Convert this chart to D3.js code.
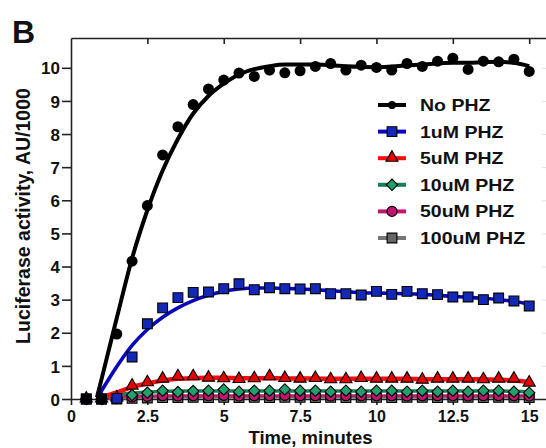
<!DOCTYPE html>
<html>
<head>
<meta charset="utf-8">
<script src="https://cdn.jsdelivr.net/npm/d3@7"></script>
<style>
  html, body { margin: 0; padding: 0; background: #fff; }
  svg { display: block; }
  text { font-family: "Liberation Sans", Arial, sans-serif; font-weight: bold; fill: #111; }
</style>
</head>
<body>
<svg id="chart" width="546" height="448"></svg>
<script>
// ---------- data ----------
const times = [0.5, 1, 1.5, 2, 2.5, 3, 3.5, 4, 4.5, 5, 5.5, 6, 6.5, 7, 7.5, 8, 8.5, 9, 9.5, 10,
               10.5, 11, 11.5, 12, 12.5, 13, 13.5, 14, 14.5, 15];
const noPHZ   = [0, 0, 1.96, 4.16, 5.84, 7.37, 8.22, 8.89, 9.36, 9.63, 9.84, 9.74, 9.93, 9.85, 9.91, 10.04,
                 10.13, 9.93, 10.08, 10.01, 9.93, 10.13, 10.04, 10.2, 10.29, 9.95, 10.2, 10.18, 10.26, 9.89];
const uM1     = [0, 0, 0.02, 1.27, 2.27, 2.75, 3.06, 3.22, 3.23, 3.33, 3.48, 3.3, 3.36, 3.33, 3.32, 3.33,
                 3.18, 3.18, 3.14, 3.25, 3.16, 3.25, 3.18, 3.15, 3.08, 3.08, 3.0, 3.05, 2.96, 2.81];
const uM5     = [0, 0, 0.03, 0.39, 0.49, 0.6, 0.67, 0.67, 0.63, 0.61, 0.59, 0.61, 0.67, 0.62, 0.6, 0.62,
                 0.58, 0.58, 0.62, 0.6, 0.6, 0.6, 0.57, 0.6, 0.6, 0.6, 0.58, 0.6, 0.6, 0.48];
const uM10    = [0, 0, 0.03, 0.12, 0.19, 0.25, 0.21, 0.24, 0.25, 0.29, 0.22, 0.25, 0.25, 0.29, 0.25, 0.25,
                 0.22, 0.25, 0.22, 0.25, 0.25, 0.22, 0.25, 0.22, 0.25, 0.22, 0.25, 0.25, 0.22, 0.19];
const uM50    = [0, 0, 0.02, 0.06, 0.08, 0.1, 0.09, 0.1, 0.1, 0.11, 0.09, 0.1, 0.1, 0.11, 0.1, 0.1,
                 0.09, 0.1, 0.1, 0.1, 0.1, 0.09, 0.1, 0.1, 0.1, 0.09, 0.1, 0.1, 0.1, 0.09];
const uM100   = [0, 0, 0, 0.02, 0.03, 0.04, 0.04, 0.05, 0.04, 0.05, 0.04, 0.05, 0.04, 0.05, 0.05, 0.04,
                 0.05, 0.04, 0.05, 0.05, 0.04, 0.05, 0.05, 0.04, 0.05, 0.05, 0.04, 0.05, 0.05, 0.04];

// fitted curves
const fitTimes = [0.85, 1, 1.5, 2, 2.5, 3, 3.5, 4, 4.5, 5, 5.5, 6, 6.5, 7, 7.5, 8, 8.5, 9, 9.5, 10,
                  10.5, 11, 11.5, 12, 12.5, 13, 13.5, 14, 14.5, 15];
const noPHZFit = [0.05, 0.6, 2.45, 4.25, 5.7, 6.9, 7.85, 8.62, 9.15, 9.52, 9.8, 9.96, 10.05, 10.1, 10.1, 10.1,
                  10.08, 10.05, 10.03, 10.02, 10.04, 10.07, 10.1, 10.13, 10.15, 10.15, 10.17, 10.18, 10.15, 10.05];
const uM1Fit   = [0.03, 0.25, 0.98, 1.62, 2.1, 2.47, 2.75, 2.97, 3.13, 3.25, 3.32, 3.35, 3.35, 3.34, 3.32, 3.3,
                  3.27, 3.24, 3.21, 3.2, 3.19, 3.18, 3.16, 3.13, 3.1, 3.07, 3.04, 3.0, 2.95, 2.86];
const uM5Fit   = [0.01, 0.05, 0.2, 0.36, 0.47, 0.56, 0.61, 0.63, 0.64, 0.64, 0.63, 0.63, 0.63, 0.62, 0.62, 0.62,
                  0.61, 0.61, 0.61, 0.61, 0.61, 0.61, 0.6, 0.6, 0.6, 0.6, 0.59, 0.58, 0.56, 0.51];
const uM10Fit  = [0.01, 0.04, 0.12, 0.18, 0.21, 0.23, 0.24, 0.24, 0.24, 0.24, 0.24, 0.24, 0.24, 0.24, 0.24, 0.24,
                  0.24, 0.24, 0.24, 0.24, 0.24, 0.24, 0.24, 0.24, 0.24, 0.24, 0.24, 0.24, 0.23, 0.22];
const uM50Fit  = [0.01, 0.03, 0.06, 0.08, 0.09, 0.1, 0.1, 0.1, 0.1, 0.1, 0.1, 0.1, 0.1, 0.1, 0.1, 0.1,
                  0.1, 0.1, 0.1, 0.1, 0.1, 0.1, 0.1, 0.1, 0.1, 0.1, 0.1, 0.1, 0.1, 0.1];
const uM100Fit = [0.01, 0.02, 0.03, 0.04, 0.05, 0.05, 0.05, 0.05, 0.05, 0.05, 0.05, 0.05, 0.05, 0.05, 0.05, 0.05,
                  0.05, 0.05, 0.05, 0.05, 0.05, 0.05, 0.05, 0.05, 0.05, 0.05, 0.05, 0.05, 0.05, 0.05];

const seriesNames = ["No PHZ", "1uM PHZ", "5uM PHZ", "10uM PHZ", "50uM PHZ", "100uM PHZ"];
const xTicks = [0, 2.5, 5, 7.5, 10, 12.5, 15];
const xTickLabels = ["0", "2.5", "5", "7.5", "10", "12.5", "15"];
const yTicks = [0, 1, 2, 3, 4, 5, 6, 7, 8, 9, 10];
const xTitle = "Time, minutes";
const yTitle = "Luciferase activity, AU/1000";
const panelLabel = "B";

// ---------- styles ----------
const styles = [
  { values: noPHZ, fit: noPHZFit, line: "#000000", fill: "#000000", width: 4,   shape: "circle" },
  { values: uM1,   fit: uM1Fit,   line: "#0808b8", fill: "#1428b8", width: 3.6, shape: "square" },
  { values: uM5,   fit: uM5Fit,   line: "#ff0a0a", fill: "#e60000", width: 4.5, shape: "triangle" },
  { values: uM10,  fit: uM10Fit,  line: "#16805a", fill: "#22a06e", width: 3.5, shape: "diamond" },
  { values: uM50,  fit: uM50Fit,  line: "#c0186e", fill: "#c2146e", width: 3,   shape: "circleSmall" },
  { values: uM100, fit: uM100Fit, line: "#777777", fill: "#666666", width: 3,   shape: "square" }
];

const svg = d3.select("#chart");
const x = d3.scaleLinear().domain([0, 15.55]).range([71, 546]);
const y = d3.scaleLinear().domain([0, 10.9]).range([399, 38]);

function symbolPath(shape) {
  if (shape === "circle") return d3.symbol(d3.symbolCircle, 95)();
  if (shape === "circleSmall") return d3.symbol(d3.symbolCircle, 80)();
  if (shape === "square") return d3.symbol(d3.symbolSquare, 96)();
  if (shape === "triangle") return d3.symbol(d3.symbolTriangle, 64)();
  if (shape === "diamond") return d3.symbol(d3.symbolSquare, 64)();
}
function symbolTransform(shape, px, py) {
  let t = `translate(${px},${py})`;
  if (shape === "diamond") t += " rotate(45)";
  if (shape === "triangle") t += " translate(0,-0.5)";
  return t;
}

// ---------- axes ----------
const axisColor = "#222";
const gLeft = svg.append("g").attr("transform", `translate(${x(0)},0)`)
  .call(d3.axisLeft(y).tickValues(yTicks).tickSize(9).tickSizeOuter(0).tickPadding(2).tickFormat(d3.format("d")));
gLeft.selectAll("text").style("font-size", "17px").attr("dy", "0.36em");

const gBottom = svg.append("g").attr("transform", `translate(0,${y(0)})`)
  .call(d3.axisBottom(x).tickValues(xTicks).tickSize(6).tickSizeOuter(0).tickPadding(6)
    .tickFormat((d, i) => xTickLabels[i]));
gBottom.selectAll("text").style("font-size", "16px");

const gTop = svg.append("g").attr("transform", `translate(0,${y.range()[1]})`)
  .call(d3.axisTop(x).tickValues(xTicks.slice(1)).tickSize(-6).tickSizeOuter(0).tickFormat(""));

const gRight = svg.append("g").attr("transform", `translate(546,0)`)
  .call(d3.axisLeft(y).tickValues(yTicks.slice(1)).tickSize(4).tickSizeOuter(0).tickFormat(""));
gRight.select(".domain").remove();
gRight.selectAll("line").attr("stroke", "#e2e2e2");

[gLeft, gBottom, gTop].forEach(g => {
  g.select(".domain").attr("stroke", axisColor).attr("stroke-width", 1.6);
  g.selectAll(".tick line").attr("stroke", axisColor).attr("stroke-width", 1.6);
  g.selectAll("text").attr("fill", "#111").style("font-family", '"Liberation Sans", Arial, sans-serif').style("font-weight", "bold");
});

// ---------- series (drawn from last to first) ----------
const lineGen = d3.line().x(d => x(d[0])).y(d => y(d[1])).curve(d3.curveMonotoneX);
const plot = svg.append("g");
for (let s = styles.length - 1; s >= 0; s--) {
  const st = styles[s];
  plot.append("path")
    .datum(fitTimes.map((t, i) => [t, st.fit[i]]))
    .attr("d", lineGen)
    .attr("fill", "none")
    .attr("stroke", st.line)
    .attr("stroke-width", st.width)
    .attr("stroke-linejoin", "round");
  plot.append("g").selectAll("path")
    .data(times.map((t, i) => [t, st.values[i]]))
    .join("path")
    .attr("d", symbolPath(st.shape))
    .attr("transform", d => symbolTransform(st.shape, x(d[0]), y(d[1])))
    .attr("fill", st.fill)
    .attr("stroke", "#000")
    .attr("stroke-width", st.shape === "circle" ? 0 : 1.1);
}

// ---------- legend ----------
const legend = svg.append("g");
seriesNames.forEach((name, i) => {
  const st = styles[i];
  const ly = 105 + i * 26.6;
  legend.append("line").attr("x1", 378).attr("x2", 406).attr("y1", ly).attr("y2", ly)
    .attr("stroke", st.line).attr("stroke-width", 4);
  legend.append("path").attr("d", symbolPath(st.shape))
    .attr("fill", st.fill).attr("stroke", "#000")
    .attr("stroke-width", st.shape === "circle" ? 0 : 1.1)
    .attr("transform", symbolTransform(st.shape, 392, ly) + (st.shape === "circle" ? " scale(0.75)" : ""));
  legend.append("text")
    .attr("transform", `translate(420,${ly + 6}) scale(1.22,1)`)
    .style("font-size", "16px")
    .text(name);
});

// ---------- titles ----------
svg.append("text").attr("x", 310.5).attr("y", 443.5).attr("text-anchor", "middle")
  .style("font-size", "18.5px").text(xTitle);
svg.append("text").attr("transform", "translate(30,216) rotate(-90)").attr("text-anchor", "middle")
  .style("font-size", "19.5px").text(yTitle);
svg.append("text").attr("x", 12).attr("y", 43).style("font-size", "32px").text(panelLabel);
</script>
</body>
</html>
